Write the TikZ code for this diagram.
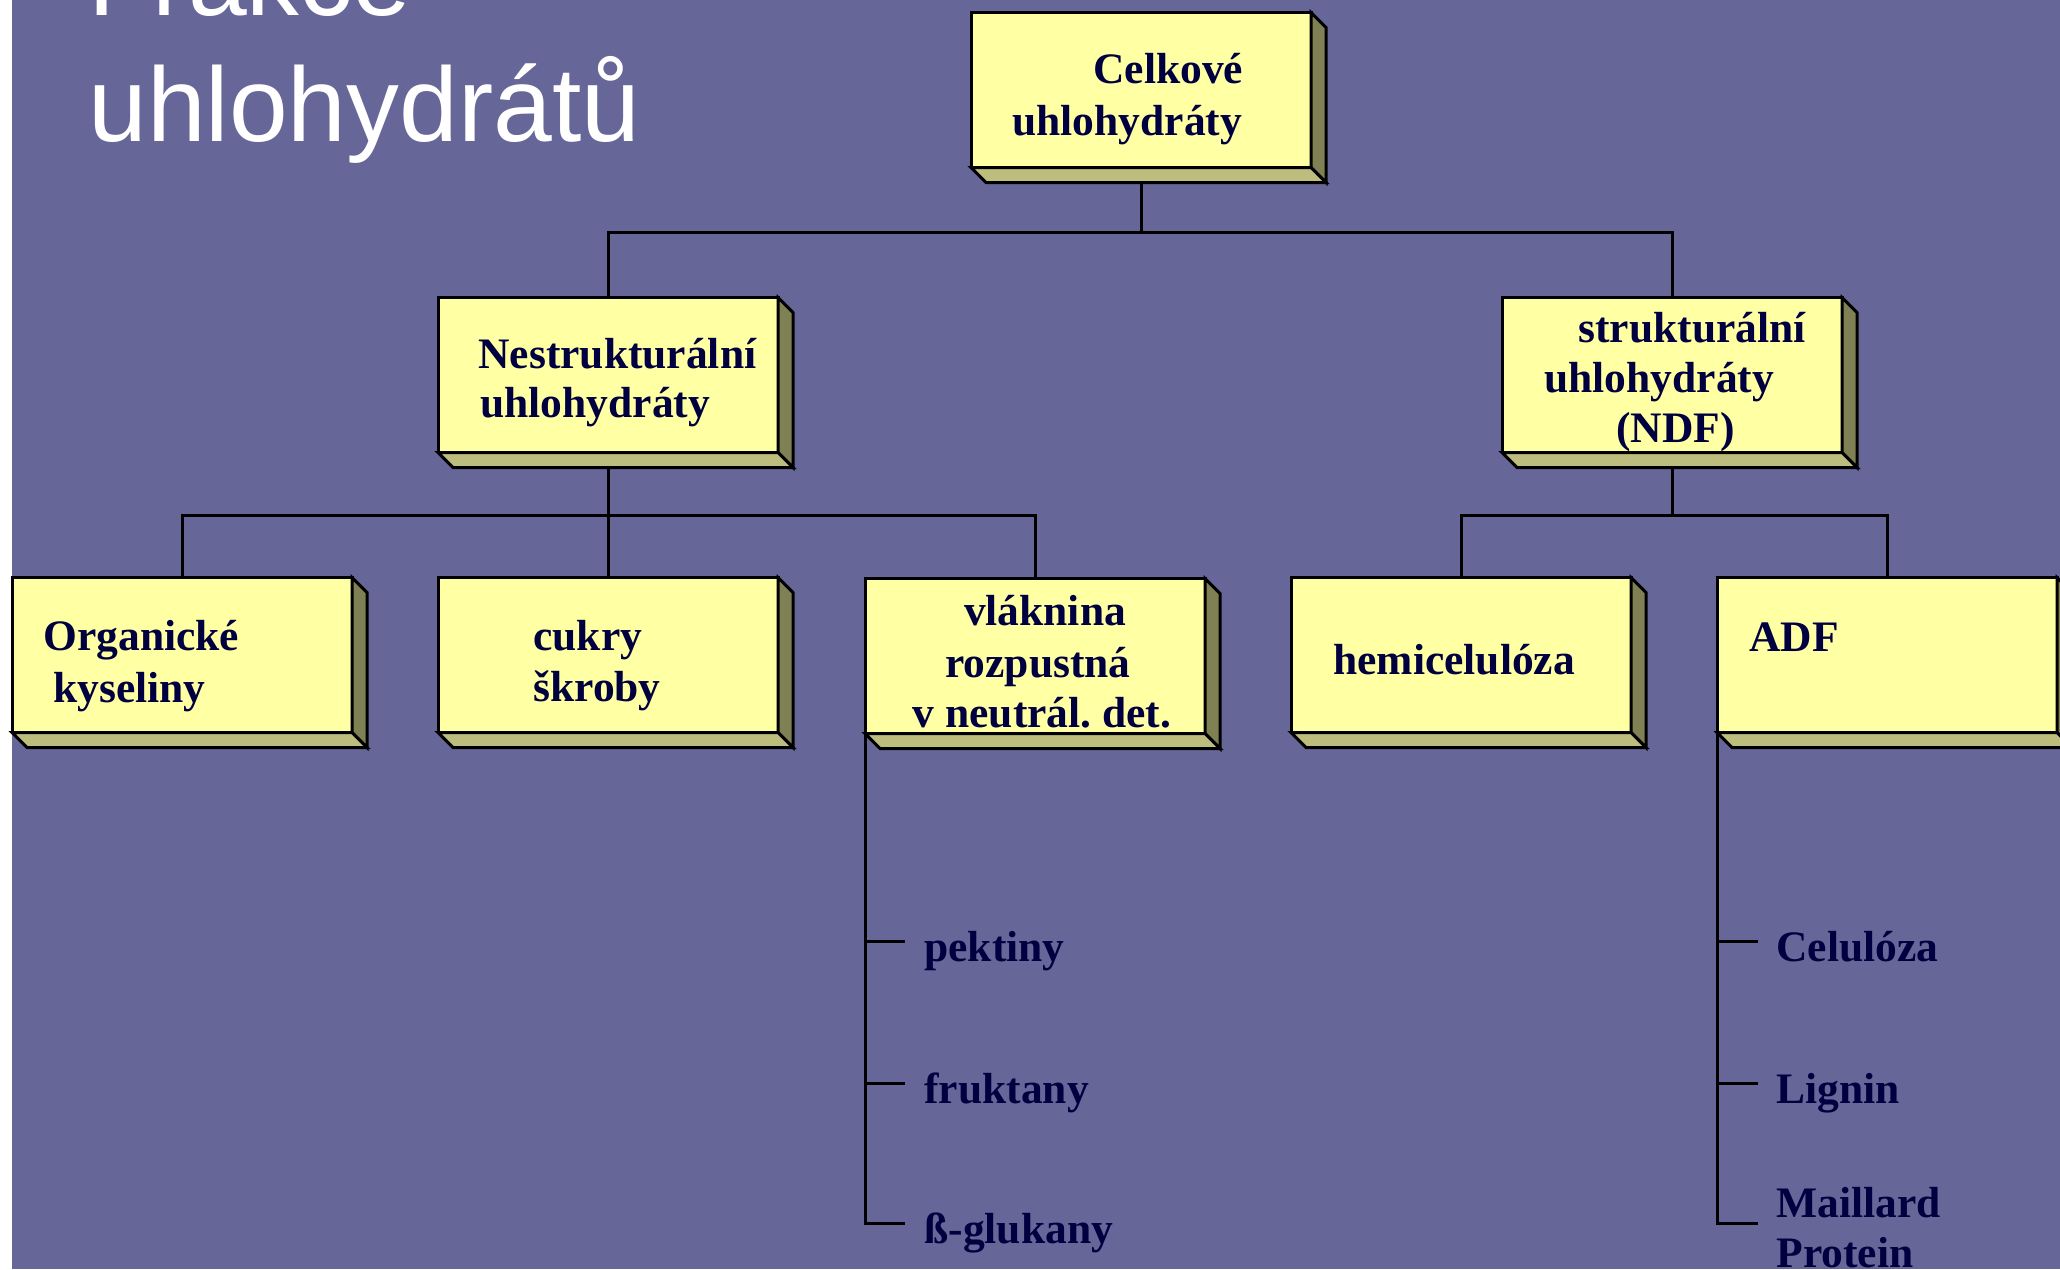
\documentclass[tikz,border=0pt]{standalone}
\usepackage{fontspec}
\setmainfont{Liberation Serif}
\newfontfamily\titlefont{Liberation Sans}
\definecolor{bgc}{HTML}{666699}
\definecolor{face}{HTML}{FFFFA3}
\definecolor{rside}{HTML}{808055}
\definecolor{bside}{HTML}{BDBD7D}
\definecolor{ink}{HTML}{000040}
\pgfdeclarelayer{back}
\pgfsetlayers{back,main}
\frenchspacing
\begin{document}
\begin{tikzpicture}[x=0.5pt,y=-0.5pt,
  box/.style={draw=black, line width=1.5pt, fill=face, minimum width=170pt, minimum height=77.5pt, inner sep=0pt, outer sep=0pt},
  rface/.style={draw=black, line width=1.5pt, fill=rside, line join=miter},
  bface/.style={draw=black, line width=1.5pt, fill=bside, line join=miter},
  lbl/.style={anchor=base west, inner sep=0pt, text=ink, font=\fontsize{21.75}{25}\selectfont\bfseries},
  clbl/.style={lbl, anchor=base},
  conn/.style={line width=1.5pt, draw=black},
  ttl/.style={anchor=base west, inner sep=0pt, text=white, font=\titlefont\fontsize{52.8}{63}\selectfont}]
\useasboundingbox (0,0) rectangle (2060,1269);
\clip (0,0) rectangle (2060,1269);
\begin{pgfonlayer}{back}
  \fill[white] (0,0) rectangle (12,1269);
  \fill[bgc] (12,0) rectangle (2060,1269);
\end{pgfonlayer}

% title
\node[ttl] (t1) at (88,16) {Frakce};
\node[ttl] (t2) at (88,141) {uhlohydrátů};

% boxes
\node[box] (celk) at (1141,90) {};
\node[box] (nest) at (608,375) {};
\node[box] (strk) at (1672,375) {};
\node[box] (org) at (182,655) {};
\node[box] (cuk) at (608,655) {};
\node[box] (vla) at (1035,656) {};
\node[box] (hemi) at (1461,655) {};
\node[box] (adf) at (1887,655) {};

\foreach \n in {celk,nest,strk,org,cuk,vla,hemi,adf}{
  \draw[rface] (\n.north east) -- ([shift={(15,15)}]\n.north east) -- ([shift={(15,15)}]\n.south east) -- (\n.south east) -- cycle;
  \draw[bface] (\n.south west) -- ([shift={(15,15)}]\n.south west) -- ([shift={(15,15)}]\n.south east) -- (\n.south east) -- cycle;
}

% connectors
\begin{pgfonlayer}{back}
  \draw[conn] (celk.south) -- ++(0,65) -| (nest.north);
  \draw[conn] (celk.south) -- ++(0,65) -| (strk.north);
  \draw[conn] (nest.south) -- ++(0,63) -| (org.north);
  \draw[conn] (nest.south) -- ++(0,63) -| (vla.north);
  \draw[conn] (nest.south) -- (cuk.north);
  \draw[conn] (strk.south) -- ++(0,63) -| (hemi.north);
  \draw[conn] (strk.south) -- ++(0,63) -| (adf.north);
\end{pgfonlayer}

\coordinate (pk) at (905,941);
\coordinate (fr) at (905,1083);
\coordinate (bg) at (905,1223);
\draw[conn] (vla.south west) -- (vla.south west |- bg) -- (bg);
\draw[conn] (vla.south west |- pk) -- (pk);
\draw[conn] (vla.south west |- fr) -- (fr);

\coordinate (ce) at (1758,941);
\coordinate (li) at (1758,1083);
\coordinate (ma) at (1758,1223);
\draw[conn] (adf.south west) -- (adf.south west |- ma) -- (ma);
\draw[conn] (adf.south west |- ce) -- (ce);
\draw[conn] (adf.south west |- li) -- (li);

% box texts
\node[lbl] (c1) at (1093,83) {Celkové};
\node[lbl] (c2) at (1012,135) {uhlohydráty};
\node[lbl] (n1) at (478,368) {Nestrukturální};
\node[lbl] (n2) at (480,417) {uhlohydráty};
\node[lbl] (s1) at (1578,342) {strukturální};
\node[lbl] (s2) at (1544,392) {uhlohydráty};
\node[lbl] (s3) at (1616,442) {(NDF)};
\node[lbl] (o1) at (43,650) {Organické};
\node[lbl] (o2) at (53,702) {kyseliny};
\node[lbl] (k1) at (533,650) {cukry};
\node[lbl] (k2) at (533,701) {škroby};
\node[clbl] (v1) at (1045,625) {vláknina};
\node[clbl] (v2) at (1038,677) {rozpustná};
\node[clbl] (v3) at (1042,727) {v neutrál. det.};
\node[lbl] (h1) at (1333,674) {hemicelulóza};
\node[lbl] (a1) at (1749,651) {ADF};

% leaf texts
\node[lbl] (l1) at (924,961) {pektiny};
\node[lbl] (l2) at (924,1103) {fruktany};
\node[lbl] (l3) at (924,1243) {ß-glukany};
\node[lbl] (r1) at (1776,961) {Celulóza};
\node[lbl] (r2) at (1776,1103) {Lignin};
\node[lbl] (r3) at (1776,1217) {Maillard};
\node[lbl] (r4) at (1776,1267) {Protein};
\end{tikzpicture}
\end{document}
